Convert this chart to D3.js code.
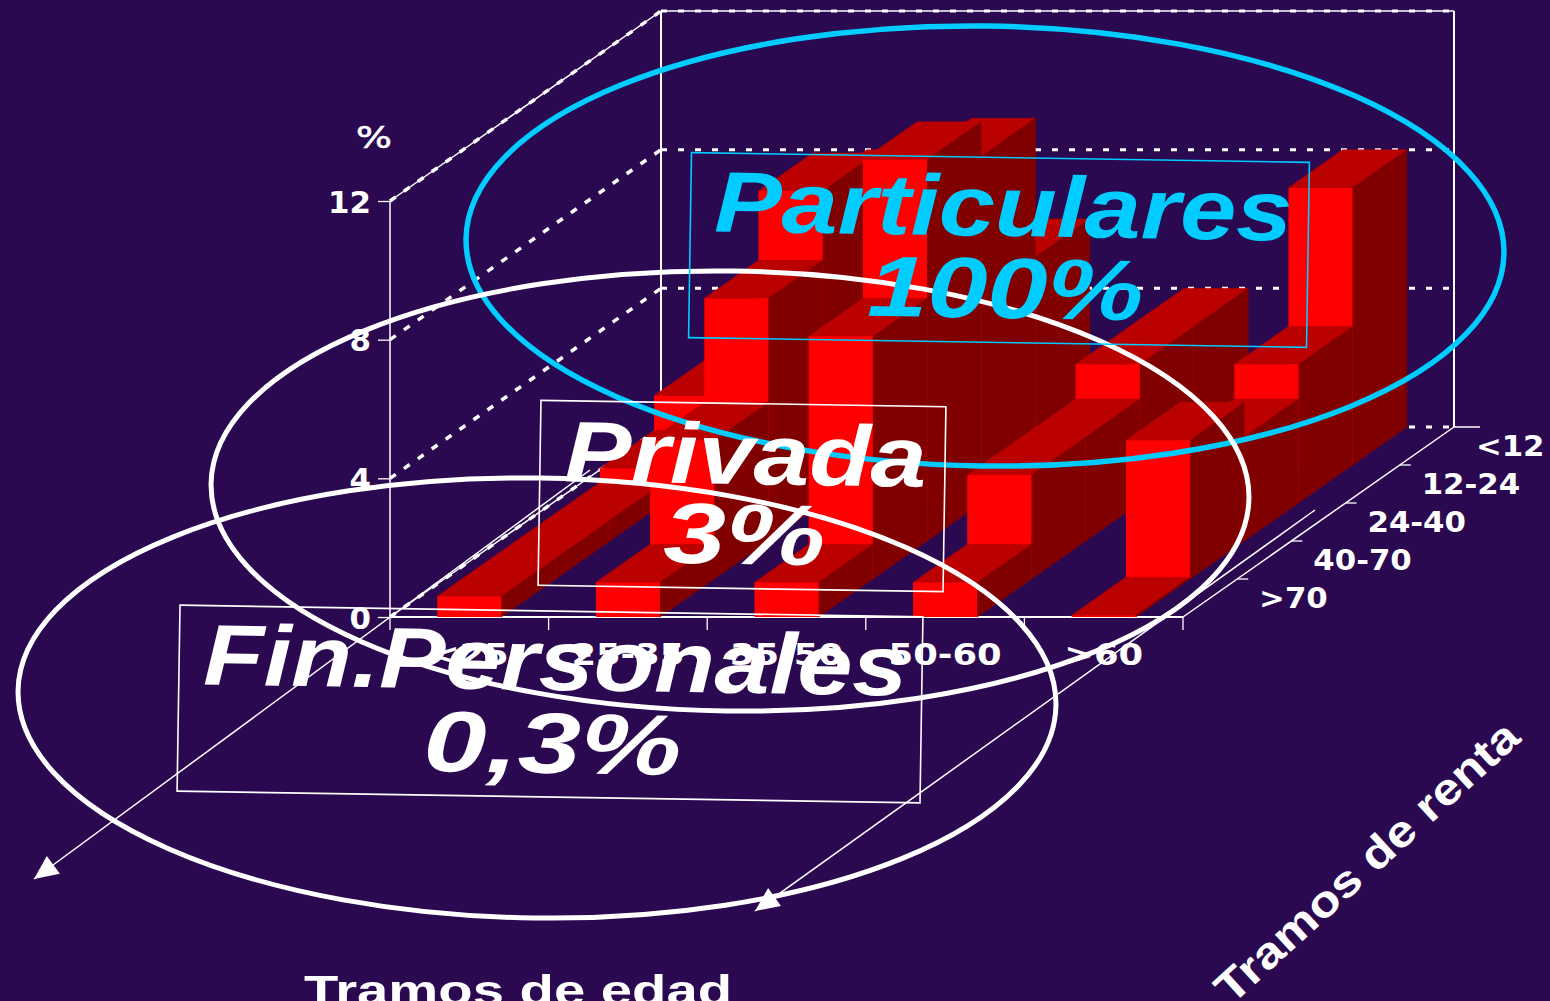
<!DOCTYPE html>
<html><head><meta charset="utf-8">
<script src="https://cdn.jsdelivr.net/npm/d3@7"></script>
<style>html,body{margin:0;padding:0;background:#2a0950;overflow:hidden}svg{display:block}</style>
</head><body><svg id="c" width="1550" height="1001"></svg>
<script>
const ageLabels = ["<25","25-35","35-50","50-60",">60"];
const incomeLabels = [">70","40-70","24-40","12-24","<12"];
const yTicks = [0,4,8,12];
// % per income band, front (>70) to back (<12)
const under25 = [0.6,0.6,0.6,1,2];
const age25to35 = [1,4,7,9,8];
const age35to50 = [1,7,11,10,6];
const age50to60 = [1,3,3,4,4];
const over60 = [0.05,4,3,4,8];
const ageSeries = [under25,age25to35,age35to50,age50to60,over60];

const BG="#2a0950", CYAN="#00ccff", W="#ffffff";
const ox=390, oy=617, floorW=793, depthX=271, depthY=-190, wallH=416;
const svg=d3.select("#c");
svg.append("rect").attr("width",1550).attr("height",1001).attr("fill",BG);

const x=d3.scaleBand().domain(ageLabels).range([0,floorW]).paddingInner(0.596).paddingOuter(0.298);
const xEdge=d3.scaleLinear().domain([0,5]).range([0,floorW]);
const z=d3.scaleLinear().domain([0,5]).range([0,1]);
const y=d3.scaleLinear().domain([0,12]).range([0,-wallH]);
const P=(px,k,v)=>[ox+px+depthX*z(k), oy+depthY*z(k)+y(v)];
const poly=pts=>pts.map(p=>p.join(",")).join(" ");

// walls
const g=svg.append("g");
const line=(a,b,w,dash)=>g.append("line").attr("x1",a[0]).attr("y1",a[1]).attr("x2",b[0]).attr("y2",b[1])
  .attr("stroke",W).attr("stroke-width",w).attr("stroke-dasharray",dash||null);
yTicks.forEach(t=>{
  line(P(0,5,t),P(floorW,5,t),t===12?1.5:3, t===12?null:"6 11");
  if(t===12) line(P(0,5,t),P(floorW,5,t),3,"6 11");
  line(P(0,0,t),P(0,5,t),3.5,"7 10");
  if(t===12||t===0) line(P(0,0,t),P(0,5,t),1.5);
});
line(P(0,5,0),P(0,5,12),2);
line(P(floorW,5,0),P(floorW,5,12),2);
line(P(0,0,0),P(0,0,12),1.5);

// bars, painted back to front
const bars=svg.append("g");
d3.range(4,-1,-1).forEach(k=>{
  ageLabels.forEach((age,i)=>{
    const v=ageSeries[i][k], a=x(age), b=a+x.bandwidth();
    bars.append("polygon").attr("points",poly([P(a,k,v),P(b,k,v),P(b,k+1,v),P(a,k+1,v)]))
      .attr("fill","#bb0000").attr("stroke","#bb0000").attr("stroke-width",.4);
    bars.append("polygon").attr("points",poly([P(b,k,0),P(b,k+1,0),P(b,k+1,v),P(b,k,v)]))
      .attr("fill","#800000").attr("stroke","#920000").attr("stroke-width",.6);
    bars.append("polygon").attr("points",poly([P(a,k,0),P(b,k,0),P(b,k,v),P(a,k,v)]))
      .attr("fill","#ff0000");
  });
});

// floor edges
line(P(0,0,0),P(floorW,0,0),1.8);
line(P(floorW,0,0),P(floorW,5,0),1.5);
line(P(floorW,5,0),[P(floorW,5,0)[0]+26,P(floorW,5,0)[1]],1.5);
d3.range(1,6).forEach(k=>{const p=P(xEdge(k),0,0); line(p,[p[0],p[1]+13],1.3);});
line(P(0,0,0),[P(0,0,0)[0],P(0,0,0)[1]+13],1.3);
d3.range(1,5).forEach(k=>{const p=P(floorW,k,0); line(p,[p[0]+11,p[1]],1.3);});

// axes (labels)
const tickFont='"DejaVu Sans",sans-serif';
const yAxis=svg.append("g").attr("transform",`translate(${ox},${oy})`)
  .call(d3.axisLeft(y).tickValues(yTicks).tickSize(12).tickPadding(0));
yAxis.select(".domain").remove();
yAxis.selectAll("line").attr("stroke",W).attr("stroke-width",1.3);
yAxis.selectAll("text").attr("fill",W).attr("font-family",tickFont).attr("font-weight","bold")
  .attr("font-size",30).attr("dy",null).attr("y",11).attr("x",0)
  .attr("transform","translate(-19,0) scale(1.03,1)");
const xAxis=svg.append("g").attr("transform",`translate(${ox},${oy+48})`)
  .call(d3.axisBottom(x).tickSize(0).tickPadding(0));
xAxis.select(".domain").remove();
xAxis.selectAll("text").attr("fill",W).attr("font-family",tickFont).attr("font-weight","bold")
  .attr("font-size",31).attr("dy",null).attr("y",0).attr("transform","scale(1.14,1)");
svg.append("g").selectAll("text").data(incomeLabels).join("text")
  .attr("transform",(d,k)=>{const p=P(floorW,k+.5,0);return `translate(${p[0]+49},${p[1]+10}) scale(1.1,1)`;})
  .attr("fill",W).attr("font-family",tickFont).attr("font-weight","bold").attr("font-size",28)
  .text(d=>d);
svg.append("text").attr("transform","translate(374,148) scale(1.22,1)")
  .attr("text-anchor","middle")
  .attr("fill",W).attr("stroke",W).attr("stroke-width",.6).attr("font-family",tickFont).attr("font-size",31).text("%");

// arrows
function arrow(a,b){
  svg.append("line").attr("x1",a[0]).attr("y1",a[1]).attr("x2",b[0]).attr("y2",b[1]).attr("stroke",W).attr("stroke-width",1.5);
  const ang=Math.atan2(b[1]-a[1],b[0]-a[0]);
  svg.append("path").attr("d","M0,0L-24,-11L-24,11Z").attr("fill",W)
    .attr("transform",`translate(${b[0]},${b[1]}) rotate(${ang*180/Math.PI})`);
}
arrow([590,470],[34,879]);
arrow([1315,510],[755,911]);

// axis titles
const title=(t,cx,cy,rot,len,size)=>svg.append("text")
  .attr("transform",`translate(${cx},${cy}) rotate(${rot})`).attr("text-anchor","middle")
  .attr("font-family",'"Liberation Sans",Arial,sans-serif').attr("font-weight","bold").attr("font-size",size)
  .attr("fill",W).attr("textLength",len).attr("lengthAdjust","spacingAndGlyphs").text(t);
title("Tramos de edad",518,1005,0,428,43);
title("Tramos de renta",1377,873,-42.4,394,44);

// ellipses
[[985,246,CYAN,5.5],[730,491,W,5],[537,698,W,5]].forEach(([cx,cy,c,w])=>{
  svg.append("ellipse").attr("cx",cx).attr("cy",cy).attr("rx",519).attr("ry",220)
    .attr("transform",`rotate(0.8,${cx},${cy})`).attr("fill","none").attr("stroke",c).attr("stroke-width",w);
});

// callouts
const tilt=0.9;
function box(c,cx,cy,bw,bh){
  svg.append("rect").attr("x",cx-bw/2).attr("y",cy-bh/2).attr("width",bw).attr("height",bh)
    .attr("transform",`rotate(${tilt},${cx},${cy})`).attr("fill","none").attr("stroke",c).attr("stroke-width",1.6);
}
function big(t,c,cx,base,len,size){
  svg.append("text").attr("transform",`translate(${cx},${base}) rotate(${tilt})`).attr("text-anchor","middle")
    .attr("font-family",'"Liberation Sans",Arial,sans-serif').attr("font-weight","bold").attr("font-style","italic")
    .attr("font-size",size).attr("fill",c).attr("textLength",len).attr("lengthAdjust","spacingAndGlyphs").text(t);
}
box(CYAN,999,250,618,185);
box(W,742,496,405,185);
box(W,550,704,743,186);
big("Particulares",CYAN,1003,236,578,86);
big("100%",CYAN,1005,318,276,86);
big("Privada",W,745,484,362,86);
big("3%",W,744,564,162,86);
big("Fin.Personales",W,555,690,704,86);
big("0,3%",W,552,773,258,86);
</script></body></html>
